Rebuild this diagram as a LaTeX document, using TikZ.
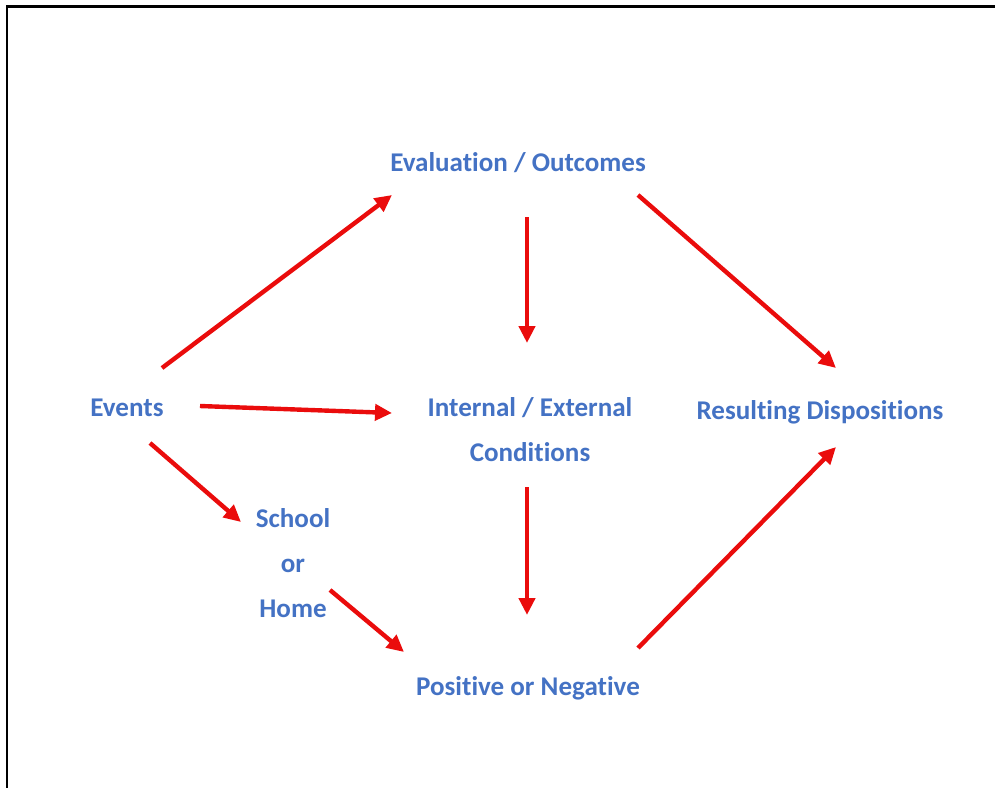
\documentclass[tikz,border=0pt]{standalone}
\usepackage{fontspec}
\setmainfont[Ligatures=NoCommon]{Carlito}
\usetikzlibrary{arrows.meta}
\definecolor{labelblue}{RGB}{68,114,196}
\definecolor{arrowred}{RGB}{234,12,12}
\begin{document}
\begin{tikzpicture}[x=0.02cm,y=-0.02cm,
  lbl/.style={text=labelblue,font=\fontsize{15.4pt}{25.5pt}\selectfont\bfseries,
              align=center,inner sep=0pt},
  arr/.style={draw=arrowred,line width=0.088cm,
              -{Triangle[length=0.34cm,width=0.32cm]}},
  frame/.style={draw=black,line width=0.06cm}]
  \useasboundingbox (0,0) rectangle (995,788);
  % outer frame (top and left edges only)
  \draw[frame] (7,788) -- (7,6) -- (995,6);

  % labels
  \node[lbl] (eo)  at (518,163) {Evaluation / Outcomes};
  \node[lbl] (ev)  at (127,408) {Events};
  \node[lbl] (ie)  at (530,430) {Internal / External\\Conditions};
  \node[lbl] (rd)  at (820,412) {Resulting Dispositions};
  \node[lbl] (sch) at (293,563) {School\\or\\Home};
  \node[lbl] (pn)  at (528,688) {Positive or Negative};

  % connectors
  \draw[arr] ([shift={(35,-40)}]ev.center)  -- ([shift={(-126,32)}]eo.center);
  \draw[arr] ([shift={(73,-2)}]ev.center)   -- ([shift={(-138,-17)}]ie.center);
  \draw[arr] ([shift={(23,35)}]ev.center)   -- ([shift={(-52,-41)}]sch.center);
  \draw[arr] ([shift={(37,27)}]sch.center)  -- ([shift={(-124,-36)}]pn.center);
  \draw[arr] ([shift={(9,54)}]eo.center)    -- ([shift={(-3,-87)}]ie.center);
  \draw[arr] ([shift={(-3,57)}]ie.center)   -- ([shift={(-1,-73)}]pn.center);
  \draw[arr] ([shift={(120,32)}]eo.center)  -- ([shift={(16,-44)}]rd.center);
  \draw[arr] ([shift={(110,-40)}]pn.center) -- ([shift={(16,35)}]rd.center);
\end{tikzpicture}
\end{document}
